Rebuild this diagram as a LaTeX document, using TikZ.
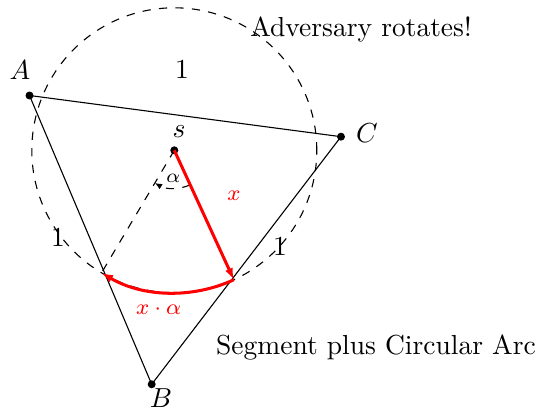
\documentclass[tikz,border=0pt]{standalone}
\usetikzlibrary{arrows.meta,calc}
\begin{document}
\begin{tikzpicture}[x=0.3636pt,y=0.3636pt,
  dot/.style={circle,fill=black,inner sep=0pt,minimum size=2.9pt},
  edge/.style={draw=black,line width=0.4pt},
  redline/.style={draw=red,line width=1.1pt},
  redtip/.style={-{Latex[length=4.2pt,width=3pt]}},
  lbl/.style={inner sep=0pt},
  redlbl/.style={inner sep=0pt,text=red,font=\footnotesize}]
\useasboundingbox (0,0) rectangle (542,410);
% points
\node[dot] (A) at (29.5,314.5) {};
\node[dot] (C) at (341,273.3) {};
\node[dot] (B) at (151.7,25.7) {};
\node[dot] (s) at (174.3,259.7) {};
\coordinate (P) at ($(s)+(-65.3:142.5)$);
\coordinate (Q) at ($(s)+(-120.7:142.5)$);
\coordinate (a1) at ($(s)+(-65.3:38)$);
% circle
\draw[dashed,line width=0.4pt] (s.center) circle[radius=51.81pt];
% triangle
\draw[edge] (A.center) -- (C.center);
\draw[edge] (A.center) -- (B.center);
\draw[edge] (B.center) -- (C.center);
% dashed radius
\draw[dashed,line width=0.4pt] (s.center) -- (Q);
% alpha arc
\draw[dashed,line width=0.4pt,-{Latex[length=2.6pt,width=2.2pt]}] (a1) arc[start angle=-65.3,end angle=-120.7,radius=13.82pt];
% red radius and arc
\draw[redline,redtip] (s.center) -- (P);
\draw[redline,redtip] (P) arc[start angle=-65.3,end angle=-120.7,radius=51.81pt];
% labels
\node[lbl] (lA) at (20,340) {$A$};
\node[lbl] (lB) at (161,12) {$B$};
\node[lbl] (lC) at (367,277) {$C$};
\node[lbl] (ls) at (179,278) {$s$};
\node[lbl] (one1) at (182,341) {1};
\node[lbl] (one2) at (58,173) {1};
\node[lbl] (one3) at (280,164) {1};
\node[redlbl] (lx) at (234,214) {$x$};
\node[redlbl] (lxa) at (158.7,101) {$x\cdot\alpha$};
\node[lbl,font=\scriptsize] (lal) at (173.3,232) {$\alpha$};
\node[lbl,anchor=base] (adv) at (361,373.5) {Adversary rotates!};
\node[lbl,anchor=base] (seg) at (376,55) {Segment plus Circular Arc};
\end{tikzpicture}
\end{document}
